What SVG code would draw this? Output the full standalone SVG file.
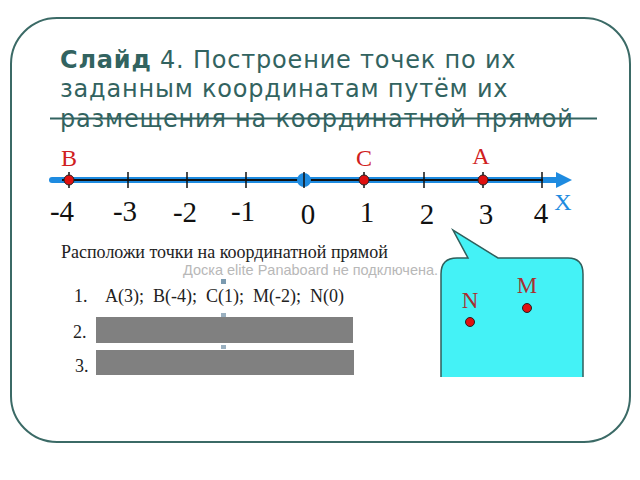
<svg xmlns="http://www.w3.org/2000/svg" width="640" height="480" viewBox="0 0 640 480">
<defs>
<style>
.title{font-family:"DejaVu Sans","Noto Sans",sans-serif;font-size:24px;letter-spacing:0.8px;fill:#326360}
.num{font-family:"Liberation Serif",serif;font-size:29px;fill:#111}
.lbl{font-family:"Liberation Serif",serif;font-size:24px;fill:#d02020}
.lbl2{font-family:"Liberation Serif",serif;font-size:23px;fill:#a83030}
.txt{font-family:"Liberation Serif",serif;font-size:18px;fill:#222}
.tick{stroke:#111;stroke-width:1.5}
.pt{fill:#e01010;stroke:#222;stroke-width:1}
</style>
</defs>
<rect width="640" height="480" fill="#fff"/>
<rect x="11" y="18" width="619" height="424" rx="46" fill="#fff" stroke="#3b6a66" stroke-width="2"/>
<g id="title">
<text class="title" x="60" y="68"><tspan font-weight="bold">Слайд</tspan> 4. Построение точек по их</text>
<text class="title" x="60" y="97">заданным координатам путём их</text>
<text class="title" x="60" y="127">размещения на координатной прямой</text>
<line x1="50" y1="118.5" x2="597" y2="118.5" stroke="#326360" stroke-width="2"/>
</g>
<g id="axis">
<line x1="52" y1="180" x2="558" y2="180" stroke="#1e8be0" stroke-width="6" stroke-linecap="round"/>
<polygon points="556,172 572,180 556,188" fill="#1e8be0"/>
<line x1="62" y1="180" x2="543" y2="180" stroke="#111" stroke-width="2"/>
<circle cx="304" cy="180" r="7" fill="#1e8be0"/>
<g class="tick">
<line x1="69" y1="172" x2="69" y2="188"/><line x1="128" y1="172" x2="128" y2="188"/>
<line x1="187" y1="172" x2="187" y2="188"/><line x1="246" y1="172" x2="246" y2="188"/>
<line x1="304" y1="172" x2="304" y2="188"/><line x1="364" y1="172" x2="364" y2="188"/>
<line x1="424" y1="172" x2="424" y2="188"/><line x1="483" y1="172" x2="483" y2="188"/>
<line x1="542" y1="172" x2="542" y2="188"/>
</g>
<circle class="pt" cx="69" cy="180" r="5"/>
<circle class="pt" cx="364" cy="180" r="5"/>
<circle class="pt" cx="483" cy="180" r="5"/>
<text class="lbl" x="69" y="166" text-anchor="middle">B</text>
<text class="lbl" x="364" y="166" text-anchor="middle">C</text>
<text class="lbl" x="481" y="164" text-anchor="middle">A</text>
<g class="num" text-anchor="middle">
<text x="62" y="221">-4</text><text x="125" y="221">-3</text><text x="185" y="222">-2</text>
<text x="243" y="221">-1</text><text x="308" y="224">0</text><text x="367" y="222">1</text>
<text x="427" y="224">2</text><text x="486" y="224">3</text><text x="541" y="223">4</text>
</g>
<text x="563" y="210" font-family="Liberation Serif,serif" font-size="24" fill="#1e8be0" text-anchor="middle">X</text>
</g>
<g id="task">
<text class="txt" x="61" y="258">Расположи точки на координатной прямой</text>
<text x="183" y="275" font-family="Liberation Sans,sans-serif" font-size="14.5" fill="#b8b8b8">Доска elite Panaboard не подключена.</text>
<text class="txt" x="74" y="302">1.</text>
<text class="txt" x="105" y="302" xml:space="preserve">A(3);  B(-4);  C(1);  M(-2);  N(0)</text>
<text class="txt" x="73" y="338">2.</text>
<text class="txt" x="75" y="372">3.</text>
<rect x="96" y="317" width="257" height="26" fill="#808080"/>
<rect x="96" y="350" width="258" height="25" fill="#808080"/>
<rect x="221" y="279" width="5" height="5" fill="#7a9ab0"/>
<rect x="221" y="313" width="5" height="4" fill="#9ab0c0"/>
<rect x="221" y="345" width="5" height="4" fill="#9ab0c0"/>
</g>
<g id="callout">
<path d="M441,377 L441,274 Q441,258 457,258 L468,258 L453,230 L498,258 L568,258 Q583,258 583,274 L583,377 Z" fill="#44f2f6"/>
<path d="M441,377 L441,274 Q441,258 457,258 L468,258 L453,230 L498,258 L568,258 Q583,258 583,274 L583,377" fill="none" stroke="#2f5f5c" stroke-width="1.5"/>
<text class="lbl2" x="470" y="308" text-anchor="middle">N</text>
<text class="lbl2" x="527" y="293" text-anchor="middle">M</text>
<circle class="pt" cx="470" cy="322" r="4.5"/>
<circle class="pt" cx="527" cy="308" r="4.5"/>
</g>
</svg>
